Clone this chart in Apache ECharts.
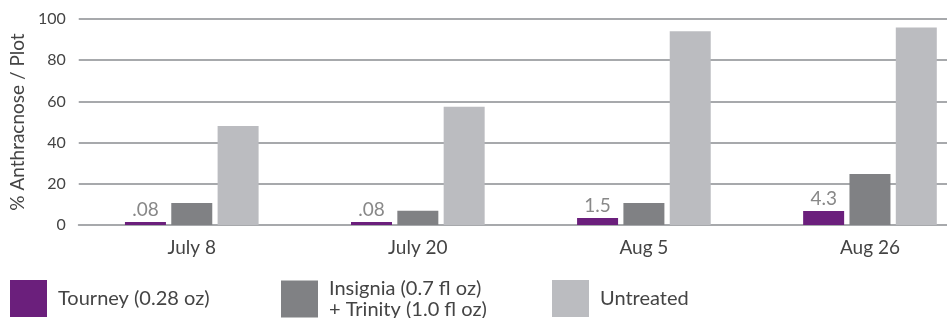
<!DOCTYPE html>
<html>
<head>
<meta charset="utf-8">
<script src="https://cdn.jsdelivr.net/npm/echarts@6/dist/echarts.min.js"></script>
<style>
  html, body { margin: 0; padding: 0; background: #fff; overflow: hidden; }
  /* the plot area runs past the right edge of the window in the original */
  #chart { width: 983px; height: 318px; }
</style>
</head>
<body>
<div id="chart"></div>
<script>
const categories = ["July 8", "July 20", "Aug 5", "Aug 26"];
// purple bars are drawn taller than their printed values in the original
const tourney = [1.5, 1.5, 3.4, 6.8];
const tourneyLabels = [".08", ".08", "1.5", "4.3"];
const insignia = [10.7, 6.9, 10.7, 24.8];
const untreated = [48, 57.4, 94, 95.9];
const yTicks = [0, 20, 40, 60, 80, 100];

const names = ["Tourney (0.28 oz)", "Insignia (0.7 fl oz)\n+ Trinity (1.0 fl oz)", "Untreated"];
const colors = ["#6b1f7c", "#808184", "#bbbcc0"];
const font = "Lato, 'Noto Sans', sans-serif";

const chart = echarts.init(document.getElementById("chart"));

const legendAt = (i, left, top) => ({
  data: [names[i]],
  left: left,
  top: top,
  padding: 0,
  itemWidth: 37,
  itemHeight: 37,
  itemGap: 0,
  icon: "rect",
  textStyle: { color: "#444", fontSize: 20, fontFamily: font, lineHeight: 21, padding: [0, 0, 0, 6] },
});

chart.setOption({
  animation: false,
  color: colors,
  grid: { left: 77, right: 0, top: 19, bottom: 93 },
  legend: [legendAt(0, 10, 280), legendAt(1, 281, 278), legendAt(2, 552, 280)],
  xAxis: {
    type: "category",
    data: categories,
    axisLine: { lineStyle: { color: "#a7a9ac", width: 2 } },
    axisTick: { show: false },
    axisLabel: { color: "#444", fontSize: 19, fontFamily: font, margin: 13 },
  },
  yAxis: {
    type: "value",
    min: yTicks[0],
    max: yTicks[yTicks.length - 1],
    interval: 20,
    name: "% Anthracnose / Plot",
    nameLocation: "middle",
    nameGap: 44,
    nameTextStyle: { color: "#444", fontSize: 19, fontFamily: font },
    axisLabel: { color: "#444", fontSize: 16, fontFamily: font, margin: 13 },
    splitLine: { lineStyle: { color: "#a7a9ac", width: 2 } },
  },
  series: [
    {
      name: names[0],
      type: "bar",
      data: tourney,
      barWidth: 41,
      barGap: "13%",
      label: {
        show: true,
        position: "top",
        distance: 3,
        color: "#888",
        fontSize: 19,
        fontFamily: font,
        formatter: (p) => tourneyLabels[p.dataIndex],
      },
    },
    { name: names[1], type: "bar", data: insignia, barWidth: 41, barGap: "13%" },
    { name: names[2], type: "bar", data: untreated, barWidth: 41, barGap: "13%" },
  ],
});
</script>
</body>
</html>
